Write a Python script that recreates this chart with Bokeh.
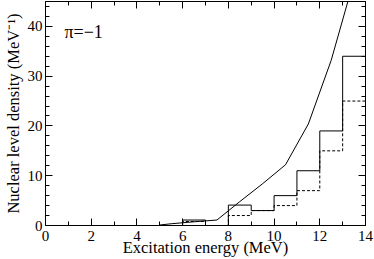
from bokeh.plotting import figure
from bokeh.models import Range1d, LinearAxis, Label, SingleIntervalTicker, CustomJSTickFormatter
from bokeh.embed import file_html
from bokeh.resources import INLINE

# Histogram bin edges (MeV) and values (MeV^-1)
bin_edges = [5, 6, 7, 8, 9, 10, 11, 12, 13, 14]
hist_solid = [0.0, 1.1, 0.0, 4.1, 3.0, 6.0, 11.0, 19.0, 34.0]
hist_dashed = [0.0, 0.8, 0.0, 2.0, 3.0, 4.0, 7.0, 15.0, 25.0]

# Smooth level-density curve
curve_x = [5.0, 5.5, 6.5, 7.5, 8.5, 9.5, 10.5, 11.5, 12.5, 13.5]
curve_y = [0.1, 0.35, 0.75, 1.1, 4.8, 8.4, 12.2, 20.4, 33.2, 49.4]

x_ticks_major = 2
y_ticks_major = 10

FONT = "Liberation Serif"

p = figure(width=374, height=259, output_backend="svg", toolbar_location=None,
           x_range=Range1d(0, 14), y_range=Range1d(0, 45),
           margin=0,
           min_border_left=43, min_border_right=9, min_border_top=1, min_border_bottom=33,
           x_axis_label="Excitation energy (MeV)",
           y_axis_label="Nuclear level density (MeV\u207b\u00b9)")
p.background_fill_color = "white"
p.border_fill_color = "white"
p.outline_line_color = "black"
p.xgrid.visible = False
p.ygrid.visible = False

xt = SingleIntervalTicker(interval=x_ticks_major, num_minor_ticks=2)
yt = SingleIntervalTicker(interval=y_ticks_major, num_minor_ticks=5)

def style(ax, ticker):
    ax.ticker = ticker
    ax.axis_line_color = "black"
    ax.major_tick_in = 7
    ax.major_tick_out = 0
    ax.minor_tick_in = 4
    ax.minor_tick_out = 0
    ax.major_tick_line_color = "black"
    ax.minor_tick_line_color = "black"
    ax.major_label_text_font = FONT
    ax.major_label_text_font_size = "15px"
    ax.major_label_text_color = "black"
    ax.axis_label_text_font = FONT
    ax.axis_label_text_font_size = "16.5px"
    ax.axis_label_text_font_style = "normal"
    ax.axis_label_text_color = "black"

style(p.xaxis[0], xt)
style(p.yaxis[0], yt)
p.xaxis[0].major_label_standoff = 5
p.xaxis[0].axis_label_standoff = -6
p.yaxis[0].major_label_standoff = 3
p.yaxis[0].axis_label_standoff = 2

blank = CustomJSTickFormatter(code="return '';")
top = LinearAxis(formatter=blank)
style(top, SingleIntervalTicker(interval=x_ticks_major, num_minor_ticks=2))
top.major_label_standoff = 0
p.add_layout(top, "above")
right = LinearAxis(formatter=blank)
style(right, SingleIntervalTicker(interval=y_ticks_major, num_minor_ticks=5))
right.major_label_standoff = 0
p.add_layout(right, "right")

p.step(bin_edges, hist_solid + [hist_solid[-1]], mode="after", line_color="black", line_width=1)
p.step(bin_edges, hist_dashed + [hist_dashed[-1]], mode="after", line_color="black",
       line_width=1, line_dash="3 2")
p.line(curve_x, curve_y, line_color="black", line_width=1)

p.add_layout(Label(x=0.83, y=38.8, text="\u03c0=\u22121", text_font=FONT,
                   text_font_size="18px", text_color="black", text_baseline="alphabetic"))

open("out.html", "w").write(file_html(p, INLINE))
